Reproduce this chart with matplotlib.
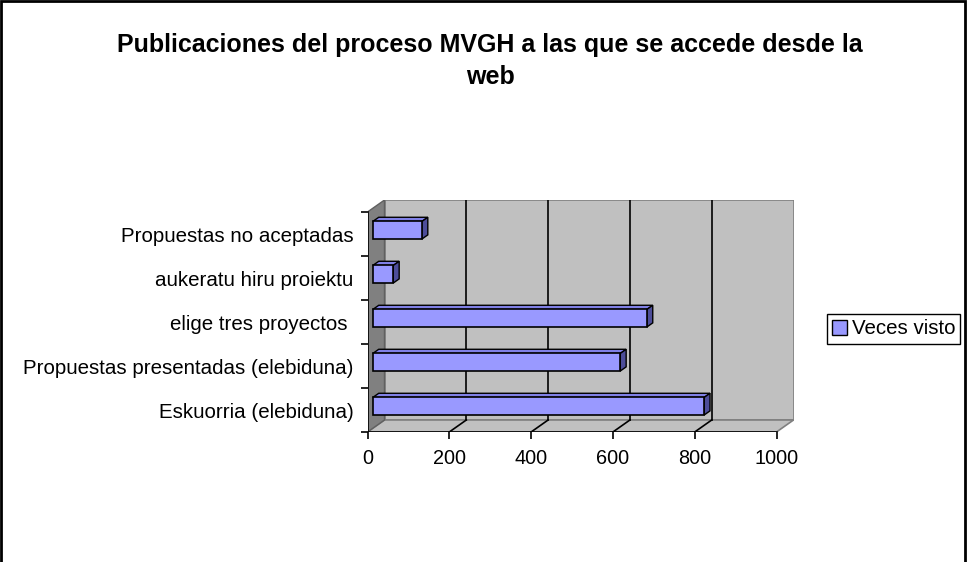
import matplotlib
matplotlib.use("Agg")
import matplotlib.pyplot as plt
from matplotlib.patches import Polygon, Patch, Rectangle

# datos
categories = [
    "Eskuorria (elebiduna)",
    "Propuestas presentadas (elebiduna)",
    "elige tres proyectos ",
    "aukeratu hiru proiektu",
    "Propuestas no aceptadas",
]
veces_visto = [810, 605, 670, 50, 120]
x_ticks = [0, 200, 400, 600, 800, 1000]
series_name = "Veces visto"
title = "Publicaciones del proceso MVGH a las que se accede desde la\nweb"

plt.rcParams["font.family"] = ["Liberation Sans", "DejaVu Sans"]

W, H = 967, 562
fig = plt.figure(figsize=(W / 100, H / 100), dpi=100)

# -----------------------------
# geometrie pseudo 3D (pixels)
# -----------------------------
x0_px, y0_px = 367.5, 432
px_per_unit = 0.409
px_per_cat = 44
depth_px = (17, 12)

xmax = x_ticks[-1]
ncat = len(categories)
DX = depth_px[0] / px_per_unit
DY = depth_px[1] / px_per_cat
top = ncat - 0.5

ax = fig.add_axes([x0_px / W, 1 - y0_px / H,
                   (xmax + DX) * px_per_unit / W, (ncat + DY) * px_per_cat / H])
ax.set_xlim(0, xmax + DX)
ax.set_ylim(-0.5, top + DY)
ax.patch.set_visible(False)
for s in ax.spines.values():
    s.set_visible(False)


def p(v, c, d):
    return (v + d * DX, c + d * DY)


wall = "#C0C0C0"
side = "#808080"

# mur du fond
ax.add_patch(Polygon([p(0, -0.5, 1), p(xmax, -0.5, 1), p(xmax, top, 1), p(0, top, 1)],
                     closed=True, facecolor=wall, edgecolor=side, lw=1.2, zorder=1))
# sol
ax.add_patch(Polygon([p(0, -0.5, 0), p(xmax, -0.5, 0), p(xmax, -0.5, 1), p(0, -0.5, 1)],
                     closed=True, facecolor=wall, edgecolor=side, lw=1.2, zorder=1))
# mur de gauche
ax.add_patch(Polygon([p(0, -0.5, 0), p(0, -0.5, 1), p(0, top, 1), p(0, top, 0)],
                     closed=True, facecolor=side, edgecolor="#606060", lw=1.0, zorder=1))

# quadrillage
for t in x_ticks[1:-1]:
    ax.plot(*zip(p(t, -0.5, 1), p(t, top, 1)), color="black", lw=1.2, zorder=2)
    ax.plot(*zip(p(t, -0.5, 0), p(t, -0.5, 1)), color="black", lw=1.2, zorder=2)

# axes avant
ax.plot(*zip(p(0, -0.5, 0), p(xmax, -0.5, 0)), color="black", lw=1.2, zorder=3)
ax.plot(*zip(p(0, -0.5, 0), p(0, top, 0)), color="black", lw=1.2, zorder=3)

# barres
d0, d1 = 0.31, 0.66
h = 0.4
ypos = [i + d0 * DY for i in range(ncat)]
ax.barh(ypos, veces_visto, height=h, left=d0 * DX, color="#9999FF",
        edgecolor="black", lw=1.2, zorder=5)
for i, v in enumerate(veces_visto):
    ax.add_patch(Polygon([p(0, i + h / 2, d0), p(v, i + h / 2, d0),
                          p(v, i + h / 2, d1), p(0, i + h / 2, d1)],
                         closed=True, facecolor="#8080E6", edgecolor="black", lw=1.0, zorder=4))
    ax.add_patch(Polygon([p(v, i - h / 2, d0), p(v, i + h / 2, d0),
                          p(v, i + h / 2, d1), p(v, i - h / 2, d1)],
                         closed=True, facecolor="#4D4D99", edgecolor="black", lw=1.0, zorder=4))

# ticks
ax.set_xticks(x_ticks)
ax.set_xticklabels([str(t) for t in x_ticks], fontsize=14.3)
ax.tick_params(axis="x", length=5, width=1.2, direction="out", pad=7)
ax.set_yticks([i - 0.5 for i in range(ncat + 1)])
ax.set_yticklabels([])
ax.set_yticks(range(ncat), minor=True)
ax.set_yticklabels(categories, minor=True, fontsize=14.8)
ax.tick_params(axis="y", which="major", length=5, width=1.2, direction="out")
ax.tick_params(axis="y", which="minor", length=0, pad=10)

# titre
fig.text(490 / W, 1 - 61 / H, title, ha="center", va="center", fontsize=18,
         fontweight="bold", linespacing=1.4)

# legende
fig.legend(handles=[Patch(facecolor="#9999FF", edgecolor="black", label=series_name)],
           loc="center", bbox_to_anchor=(893.5 / W, 1 - 329 / H), fontsize=14.8,
           frameon=True, fancybox=False, edgecolor="black", framealpha=1,
           handlelength=0.75, handleheight=0.75, handletextpad=0.2,
           borderpad=0.25, borderaxespad=0)

# cadre
fig.patches.append(Rectangle((1 / W, -0.1), (W - 3) / W, 1.1 - 1 / H,
                             transform=fig.transFigure, fill=False,
                             edgecolor="black", lw=2))

fig.savefig("out.png", dpi=100)
